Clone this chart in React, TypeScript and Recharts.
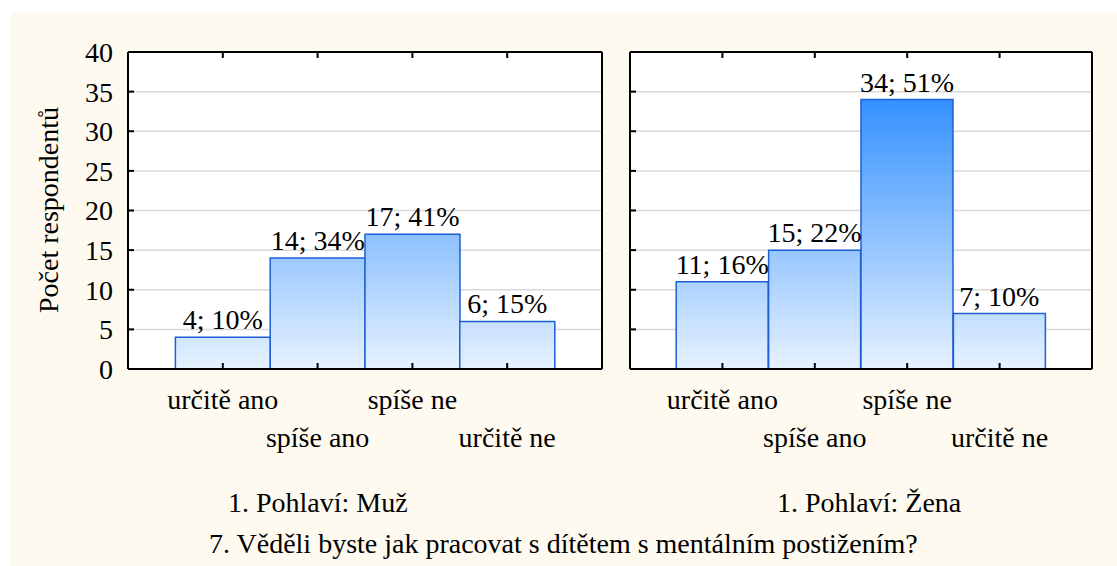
import React from "react";
import { BarChart, Bar, XAxis, YAxis, CartesianGrid, LabelList } from "recharts";

// data
const categories = ["určitě ano", "spíše ano", "spíše ne", "určitě ne"];
const menCounts = [4, 14, 17, 6];
const menPct = [10, 34, 41, 15];
const womenCounts = [11, 15, 34, 7];
const womenPct = [16, 22, 51, 10];
const yTicks = [0, 5, 10, 15, 20, 25, 30, 35, 40];
const panelTitles = ["1. Pohlaví: Muž", "1. Pohlaví: Žena"];
const yTitle = "Počet respondentů";
const chartTitle = "7. Věděli byste jak pracovat s dítětem s mentálním postižením?";

const FONT = "Liberation Serif, DejaVu Serif, serif";
const FS = 28;
const PLOT_TOP = 52;
const PLOT_BOTTOM = 369;
const CHART_H = 470;

const txt = { fontFamily: FONT, fontSize: FS, fill: "#000" };

const toRows = (counts: number[], pct: number[]) =>
  categories.map((name, i) => ({
    name,
    value: counts[i],
    label: `${counts[i]}; ${pct[i]}%`,
  }));

// staggered category labels (two rows)
const CatTick = (props: any) => {
  const { x, y, index, payload } = props;
  const dy = index % 2 === 0 ? 40 : 78;
  return (
    <text x={x} y={y + dy} textAnchor="middle" style={txt}>
      {payload.value}
    </text>
  );
};

const NoTick = () => <g />;

interface PanelProps {
  rows: { name: string; value: number; label: string }[];
  id: string;
  left: number;
  width: number;
  yAxisWidth: number;
  marginLeft: number;
  showYLabels: boolean;
  pad: number;
}

const frame = { stroke: "#000", strokeWidth: 2 };

const Panel: React.FC<PanelProps> = ({ rows, id, left, width, yAxisWidth, marginLeft, showYLabels, pad }) => (
  <div style={{ position: "absolute", left, top: 0 }}>
    <BarChart
      width={width}
      height={CHART_H}
      data={rows}
      margin={{ top: PLOT_TOP - 1, right: 17, bottom: 0, left: marginLeft }}
      barCategoryGap={0}
      barGap={0}
    >
      <defs>
        <linearGradient id={id} gradientUnits="userSpaceOnUse" x1={0} y1={PLOT_TOP} x2={0} y2={PLOT_BOTTOM}>
          <stop offset="0%" stopColor="#1580ff" />
          <stop offset="100%" stopColor="#e6f2ff" />
        </linearGradient>
      </defs>
      <CartesianGrid vertical={false} stroke="#d9d9d9" strokeWidth={1.5} fill="#ffffff" />
      <XAxis
        dataKey="name"
        height={CHART_H - PLOT_BOTTOM}
        interval={0}
        padding={{ left: pad, right: pad }}
        axisLine={frame}
        tickLine={frame}
        tickSize={-6}
        tickMargin={6}
        tick={<CatTick />}
      />
      <XAxis
        xAxisId="top"
        dataKey="name"
        orientation="top"
        height={1}
        interval={0}
        padding={{ left: pad, right: pad }}
        axisLine={frame}
        tickLine={frame}
        tickSize={-6}
        tick={<NoTick />}
      />
      <YAxis
        domain={[0, 40]}
        ticks={yTicks}
        width={yAxisWidth}
        interval={0}
        axisLine={frame}
        tickLine={frame}
        tickSize={-6}
        tickMargin={21}
        tick={showYLabels ? txt : <NoTick />}
      />
      <YAxis
        yAxisId="r"
        orientation="right"
        domain={[0, 40]}
        ticks={yTicks}
        width={1}
        interval={0}
        axisLine={frame}
        tickLine={frame}
        tickSize={-6}
        tick={<NoTick />}
      />
      <Bar dataKey="value" fill={`url(#${id})`} stroke="#1d5fd6" strokeWidth={1.5} isAnimationActive={false}>
        <LabelList dataKey="label" position="top" offset={8} style={txt} />
      </Bar>
    </BarChart>
  </div>
);

export default function App() {
  return (
    <div style={{ position: "absolute", left: 0, top: 0, width: 1117, height: 566, background: "#ffffff", overflow: "hidden" }}>
      <div style={{ position: "absolute", left: 11, top: 12, right: 0, bottom: 0, background: "#fffaf0" }} />
      <Panel rows={toRows(menCounts, menPct)} id="gradMen" left={0} width={620} yAxisWidth={128} marginLeft={0} showYLabels pad={47.4} />
      <Panel rows={toRows(womenCounts, womenPct)} id="gradWomen" left={620} width={490} yAxisWidth={1} marginLeft={9} showYLabels={false} pad={46.2} />
      <svg width={1117} height={566} style={{ position: "absolute", left: 0, top: 0, pointerEvents: "none" }}>
        <text x={0} y={0} transform="translate(58,210) rotate(-90)" textAnchor="middle" style={txt}>
          {yTitle}
        </text>
        <text x={228} y={512} style={txt}>{panelTitles[0]}</text>
        <text x={777} y={512} style={txt}>{panelTitles[1]}</text>
        <text x={209} y={553} style={txt}>{chartTitle}</text>
      </svg>
    </div>
  );
}
